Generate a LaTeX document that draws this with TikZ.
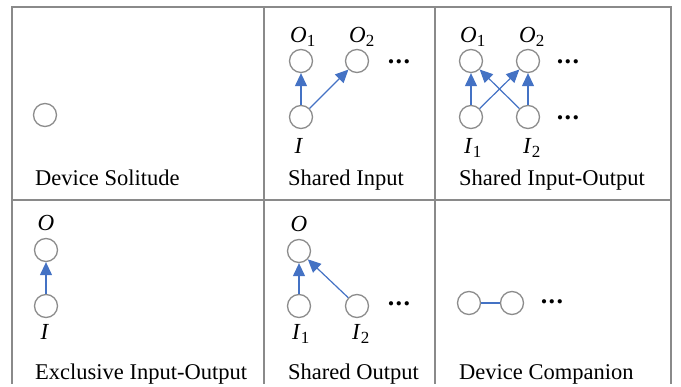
\documentclass[tikz,border=0pt]{standalone}
\usepackage{fontspec}
\setmainfont{Liberation Serif}
\usetikzlibrary{arrows.meta}

\definecolor{framegray}{HTML}{8A8A8A}
\definecolor{ringgray}{HTML}{8C8C8C}
\definecolor{linkblue}{HTML}{4472C4}

\tikzset{
  frameline/.style={draw=framegray, line width=2.3pt},
  dev/.style={circle, draw=ringgray, line width=1.3pt, minimum size=23pt, inner sep=0pt},
  lbl/.style={inner sep=0pt, font=\fontsize{23}{26}\selectfont},
  dotsnode/.style={inner sep=0pt, font=\fontsize{26}{28}\selectfont\bfseries},
  caption/.style={anchor=base west, inner sep=0pt, font=\fontsize{22.5}{26}\selectfont},
  flow/.style={draw=linkblue, line width=1.2pt, -{Triangle[length=13pt,width=12pt]}},
  link/.style={draw=linkblue, line width=1.2pt}
}
\newcommand{\sym}[2]{\textit{#1}\textsubscript{\fontsize{17}{17}\selectfont #2}}
\newcommand{\threedots}{.\hspace{1.5pt}.\hspace{1.5pt}.}

\begin{document}
\begin{tikzpicture}[x=1pt,y=-1pt]
\useasboundingbox (0,0) rectangle (681,387);

% table grid (open at the bottom)
\coordinate (tl) at (12,7);
\coordinate (tr) at (671,7);
\coordinate (bl) at (12,384);
\coordinate (br) at (671,384);
\coordinate (ml) at (12,200);
\coordinate (mr) at (671,200);
\coordinate (d1t) at (264,7);
\coordinate (d1b) at (264,384);
\coordinate (d2t) at (435,7);
\coordinate (d2b) at (435,384);
\draw[frameline] (bl) -- (tl) -- (tr) -- (br);
\draw[frameline] (ml) -- (mr);
\draw[frameline] (d1t) -- (d1b);
\draw[frameline] (d2t) -- (d2b);

% Device Solitude
\node[dev] (sa) at (45,115) {};
\node[caption] (ca) at (35,186) {Device Solitude};

% Shared Input
\node[dev] (bO1) at (301,61) {};
\node[dev] (bO2) at (357,61) {};
\node[dev] (bI) at (301,117) {};
\node[dotsnode] (bd) at (399,62) {\threedots};
\node[lbl] (lbO1) at (303,37) {\sym{O}{1}};
\node[lbl] (lbO2) at (362,37) {\sym{O}{2}};
\node[lbl] (lbI) at (299,146) {\textit{I}};
\draw[flow] (bI) -- (bO1);
\draw[flow] (bI) -- (bO2);
\node[caption] (cb) at (288,186) {Shared Input};

% Shared Input-Output
\node[dev] (cO1) at (471,61) {};
\node[dev] (cO2) at (528,61) {};
\node[dev] (cI1) at (471,117) {};
\node[dev] (cI2) at (528,117) {};
\node[dotsnode] (cd1) at (568,62) {\threedots};
\node[dotsnode] (cd2) at (568,118) {\threedots};
\node[lbl] (lcO1) at (473,37) {\sym{O}{1}};
\node[lbl] (lcO2) at (532,37) {\sym{O}{2}};
\node[lbl] (lcI1) at (473,148) {\sym{I}{1}};
\node[lbl] (lcI2) at (532,148) {\sym{I}{2}};
\draw[flow] (cI1) -- (cO1);
\draw[flow] (cI2) -- (cO2);
\draw[flow] (cI1) -- (cO2);
\draw[flow] (cI2) -- (cO1);
\node[caption] (cc) at (459,186) {Shared Input-Output};

% Exclusive Input-Output
\node[dev] (dO) at (46,250) {};
\node[dev] (dI) at (46,306) {};
\node[lbl] (ldO) at (46,223) {\textit{O}};
\node[lbl] (ldI) at (45,332) {\textit{I}};
\draw[flow] (dI) -- (dO);
\node[caption] (cd) at (35,380) {Exclusive Input-Output};

% Shared Output
\node[dev] (eO) at (299,251) {};
\node[dev] (eI1) at (299,306) {};
\node[dev] (eI2) at (357,306) {};
\node[dotsnode] (ed) at (399,304) {\threedots};
\node[lbl] (leO) at (299,224) {\textit{O}};
\node[lbl] (leI1) at (301,334) {\sym{I}{1}};
\node[lbl] (leI2) at (361,334) {\sym{I}{2}};
\draw[flow] (eI1) -- (eO);
\draw[flow] (eI2) -- (eO);
\node[caption] (ce) at (288,380) {Shared Output};

% Device Companion
\node[dev] (fA) at (469,303) {};
\node[dev] (fB) at (512,303) {};
\node[dotsnode] (fd) at (552,302) {\threedots};
\draw[link] (fA) -- (fB);
\node[caption] (cf) at (459,380) {Device Companion};
\end{tikzpicture}
\end{document}
